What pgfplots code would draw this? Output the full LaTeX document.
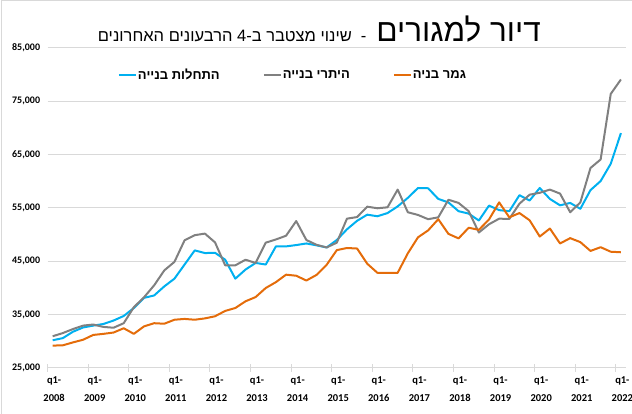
\documentclass[border=0pt]{standalone}
\usepackage{fontspec}
\setmainfont{Carlito}
\newfontfamily\hebfont[Script=Hebrew]{Liberation Sans}
\usepackage{pgfplots}
\usepackage{pgfplotstable}
\pgfplotsset{compat=1.18}
\TeXXeTstate=1
\definecolor{cblue}{HTML}{00B0F0}
\definecolor{cgray}{HTML}{808080}
\definecolor{corange}{HTML}{E46C0A}
\definecolor{cgrid}{HTML}{D9D9D9}

\pgfplotstableread{
i blue gray orange
0 30200 30950 29200
1 30600 31550 29250
2 31800 32300 29800
3 32600 32950 30300
4 32950 33150 31200
5 33250 32700 31400
6 33900 32550 31650
7 34750 33400 32450
8 36250 36400 31400
9 38150 38250 32800
10 38600 40500 33400
11 40300 43300 33300
12 41750 44900 34050
13 44400 48950 34200
14 47050 49900 34050
15 46550 50200 34300
16 46600 48550 34700
17 45300 44250 35700
18 41750 44250 36250
19 43450 45300 37500
20 44700 44700 38300
21 44400 48500 40000
22 47800 49100 41100
23 47800 49800 42500
24 48050 52550 42300
25 48350 49000 41400
26 48000 48100 42450
27 47600 47600 44350
28 49000 48500 47100
29 51000 53000 47500
30 52600 53300 47400
31 53750 55250 44550
32 53450 54950 42850
33 54050 55130 42850
34 55300 58450 42850
35 56900 54200 46500
36 58750 53700 49500
37 58700 52900 50800
38 56700 53250 52900
39 56050 56550 50150
40 54400 55950 49300
41 53950 54400 51300
42 52650 50400 50900
43 55450 51950 52850
44 54600 53000 56050
45 54400 52950 53250
46 57400 55800 54050
47 56400 57500 52700
48 58750 57850 49650
49 56700 58450 51150
50 55500 57700 48350
51 55950 54200 49350
52 54850 56050 48600
53 58350 62500 46950
54 60050 64100 47650
55 63300 76400 46800
56 69050 79100 46700
}\data

\begin{document}
\begin{tikzpicture}
\useasboundingbox (0pt,0pt) rectangle (632pt,414pt);
\draw[cgrid, line width=1pt] (1pt,0pt) -- (1pt,413pt) -- (632pt,413pt);
\node[anchor=base east, inner sep=0pt] at (541pt,372pt) {\hebfont\beginR{\fontsize{31.5}{33}\selectfont דיור למגורים}\hspace{10pt}{\fontsize{16.5}{18}\selectfont -\hspace{9pt}שינוי מצטבר ב-4 הרבעונים האחרונים}\endR};
\begin{axis}[
  at={(47.6pt,46pt)}, anchor=south west,
  scale only axis, width=578.4pt, height=320pt,
  xmin=-0.5, xmax=56.5,
  ymin=25000, ymax=85000,
  ytick={25000,35000,45000,55000,65000,75000,85000},
  scaled y ticks=false,
  xtick={-0.5,3.5,...,55.5},
  xticklabels={{q1-\\2008},{q1-\\2009},{q1-\\2010},{q1-\\2011},{q1-\\2012},{q1-\\2013},{q1-\\2014},{q1-\\2015},{q1-\\2016},{q1-\\2017},{q1-\\2018},{q1-\\2019},{q1-\\2020},{q1-\\2021},{q1-\\2022}},
  xticklabel style={align=center, xshift=6.5pt, yshift=-1pt, font=\fontsize{10.5}{18}\selectfont\bfseries},
  yticklabel style={font=\fontsize{10}{12}\selectfont\bfseries},
  /pgf/number format/assume math mode=true,
  /pgf/number format/fixed,
  /pgf/number format/1000 sep={,},
  axis x line*=bottom, axis y line*=left,
  x axis line style={cgrid, line width=1pt},
  y axis line style={draw=none},
  xtick style={cgrid, line width=1pt},
  ytick style={draw=none},
  tick align=center,
  major tick length=8pt,
  ymajorgrids, grid style={cgrid, line width=1pt},
  legend columns=3,
  legend style={draw=none, fill=none, at={(0.4234,0.9156)}, anchor=center,
    font=\hebfont\bfseries\fontsize{13}{15}\selectfont,
    /tikz/every even column/.append style={column sep=42pt},
    nodes={inner sep=1pt}},
  legend image code/.code={\draw[#1] (0pt,0pt) -- (17pt,0pt);},
  every axis plot/.append style={line width=2pt, line join=round},
]
\addplot[cblue] table[x=i, y=blue] {\data};
\addlegendentry{\beginR התחלות בנייה\endR}
\addplot[cgray] table[x=i, y=gray] {\data};
\addlegendentry{\beginR היתרי בנייה\endR}
\addplot[corange] table[x=i, y=orange] {\data};
\addlegendentry{\beginR גמר בניה\endR}
\end{axis}
\end{tikzpicture}
\end{document}
